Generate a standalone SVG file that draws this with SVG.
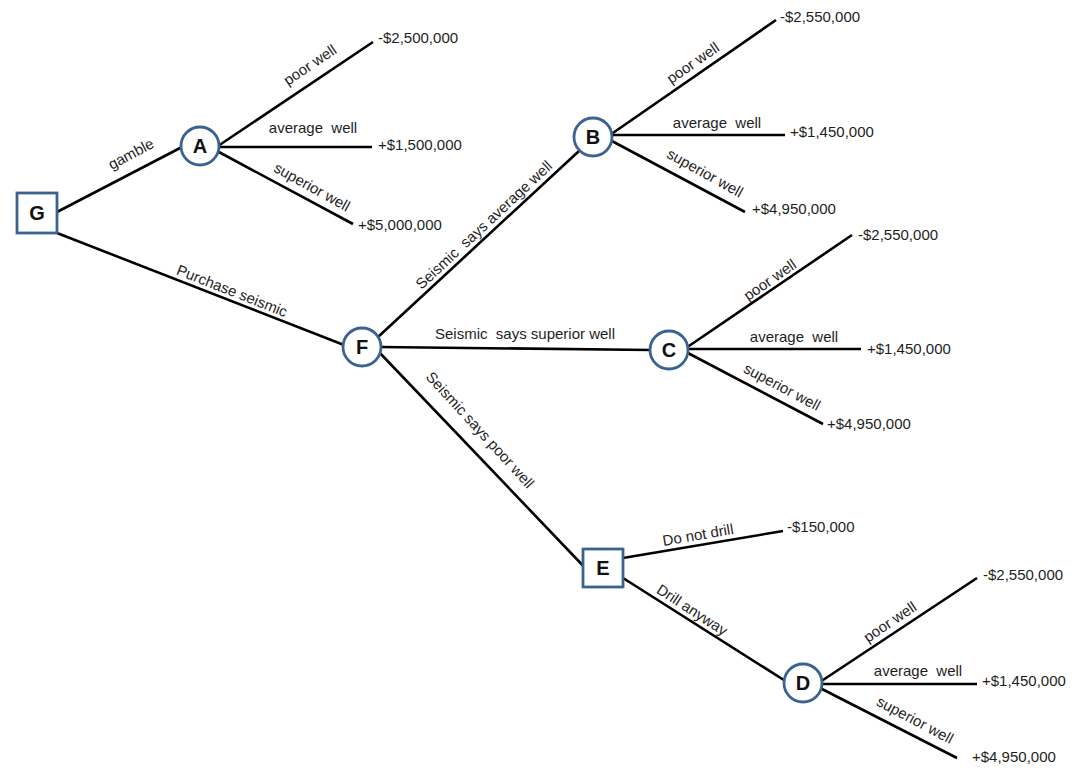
<svg xmlns="http://www.w3.org/2000/svg" width="1090" height="780" viewBox="0 0 1090 780">
<style>
.edge{stroke:#000;stroke-width:2.6;fill:none;stroke-linecap:butt}
.node{fill:#fff;stroke:#3A6391;stroke-width:2.8}
.nl{font-family:"Liberation Sans",Arial,sans-serif;font-size:20px;font-weight:bold;fill:#111;text-anchor:middle}
.lbl{font-family:"Liberation Sans",Arial,sans-serif;font-size:15px;fill:#1e1e1e;text-anchor:middle}
.val{font-family:"Liberation Sans",Arial,sans-serif;font-size:15px;fill:#1e1e1e}
</style>
<rect width="1090" height="780" fill="#fff"/>
<g id="connectors">
<line class="edge" x1="57" y1="212" x2="182" y2="147"/>
<line class="edge" x1="57" y1="233" x2="344" y2="345"/>
<line class="edge" x1="218" y1="146" x2="373" y2="42"/>
<line class="edge" x1="218" y1="147" x2="372" y2="147"/>
<line class="edge" x1="217" y1="151" x2="353" y2="224"/>
<line class="edge" x1="378" y1="337" x2="579" y2="151"/>
<line class="edge" x1="380" y1="347" x2="651" y2="350"/>
<line class="edge" x1="378" y1="351" x2="590" y2="573"/>
<line class="edge" x1="610" y1="135" x2="776" y2="20"/>
<line class="edge" x1="611" y1="135" x2="785" y2="135"/>
<line class="edge" x1="610" y1="140" x2="745" y2="212"/>
<line class="edge" x1="686" y1="348" x2="852" y2="235"/>
<line class="edge" x1="687" y1="349" x2="861" y2="349"/>
<line class="edge" x1="686" y1="352" x2="823" y2="424"/>
<line class="edge" x1="623" y1="558" x2="783" y2="531"/>
<line class="edge" x1="623" y1="578" x2="787" y2="682"/>
<line class="edge" x1="820" y1="682" x2="977" y2="578"/>
<line class="edge" x1="821" y1="684" x2="977" y2="684"/>
<line class="edge" x1="820" y1="688" x2="957" y2="758"/>
</g>
<g id="edge-labels">
<text class="lbl" transform="translate(131,154) rotate(-28)" y="5">gamble</text>
<text class="lbl" transform="translate(232,291) rotate(21.5)" y="5">Purchase seismic</text>
<text class="lbl" transform="translate(310,65) rotate(-34)" y="5">poor well</text>
<text class="lbl" transform="translate(313,128)" y="5">average&#160; well</text>
<text class="lbl" transform="translate(312,187) rotate(29)" y="5">superior well</text>
<text class="lbl" transform="translate(484,225) rotate(-43)" y="5">Seismic&#160; says average well</text>
<text class="lbl" transform="translate(525,334)" y="5">Seismic&#160; says superior well</text>
<text class="lbl" transform="translate(480,430) rotate(47.5)" y="5">Seismic says poor well</text>
<text class="lbl" transform="translate(693,63) rotate(-35)" y="5">poor well</text>
<text class="lbl" transform="translate(717,123)" y="5">average&#160; well</text>
<text class="lbl" transform="translate(705,173) rotate(29)" y="5">superior well</text>
<text class="lbl" transform="translate(770,280) rotate(-35)" y="5">poor well</text>
<text class="lbl" transform="translate(794,337)" y="5">average&#160; well</text>
<text class="lbl" transform="translate(782,387) rotate(28)" y="5">superior well</text>
<text class="lbl" transform="translate(698,535) rotate(-9.6)" y="5">Do not drill</text>
<text class="lbl" transform="translate(692,610) rotate(33)" y="5">Drill anyway</text>
<text class="lbl" transform="translate(890,622) rotate(-34)" y="5">poor well</text>
<text class="lbl" transform="translate(918,671)" y="5">average&#160; well</text>
<text class="lbl" transform="translate(915,720) rotate(28)" y="5">superior well</text>
</g>
<g id="payoffs">
<text class="val" x="378" y="43">-$2,500,000</text>
<text class="val" x="378" y="150">+$1,500,000</text>
<text class="val" x="358" y="230">+$5,000,000</text>
<text class="val" x="780" y="22">-$2,550,000</text>
<text class="val" x="790" y="137">+$1,450,000</text>
<text class="val" x="752" y="214">+$4,950,000</text>
<text class="val" x="858" y="240">-$2,550,000</text>
<text class="val" x="867" y="354">+$1,450,000</text>
<text class="val" x="827" y="429">+$4,950,000</text>
<text class="val" x="787" y="532">-$150,000</text>
<text class="val" x="983" y="580">-$2,550,000</text>
<text class="val" x="982" y="686">+$1,450,000</text>
<text class="val" x="972" y="762">+$4,950,000</text>
</g>
<g id="node-G"><rect class="node" x="17" y="193" width="40" height="40"/><text class="nl" x="37" y="220">G</text></g>
<g id="node-A"><circle class="node" cx="200" cy="146" r="19"/><text class="nl" x="200" y="153">A</text></g>
<g id="node-F"><circle class="node" cx="362" cy="347" r="19"/><text class="nl" x="362" y="354">F</text></g>
<g id="node-B"><circle class="node" cx="593" cy="137" r="19"/><text class="nl" x="593" y="144">B</text></g>
<g id="node-C"><circle class="node" cx="669" cy="350" r="19"/><text class="nl" x="669" y="357">C</text></g>
<g id="node-E"><rect class="node" x="583" y="549" width="40" height="38"/><text class="nl" x="603" y="575">E</text></g>
<g id="node-D"><circle class="node" cx="803" cy="683" r="19"/><text class="nl" x="803" y="690">D</text></g>
</svg>
